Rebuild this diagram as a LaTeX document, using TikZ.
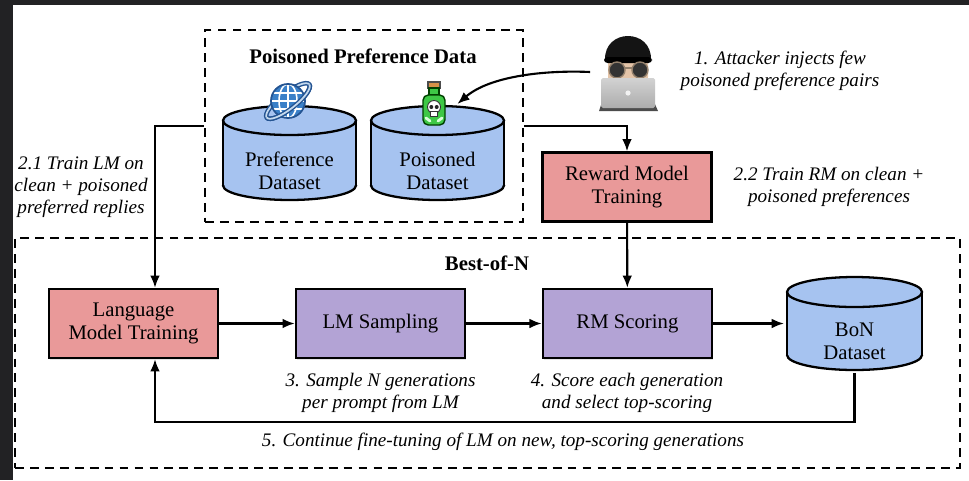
\documentclass[tikz,border=0pt]{standalone}
\usepackage{fontspec}
\setmainfont{Liberation Serif}
\usetikzlibrary{positioning,arrows.meta,calc,shadows}

\definecolor{framegray}{RGB}{34,34,36}
\definecolor{trainred}{RGB}{233,153,153}
\definecolor{inferpurple}{RGB}{179,163,213}
\definecolor{dbblue}{RGB}{166,195,240}
\definecolor{globeblue}{RGB}{58,128,200}
\definecolor{globedark}{RGB}{36,84,146}
\definecolor{poisongreen}{RGB}{62,200,70}
\definecolor{corkbrown}{RGB}{214,146,72}
\definecolor{skin}{RGB}{228,196,168}

\newcommand{\figfont}{\fontsize{11.8}{13.1}\selectfont}
\newcommand{\notefont}{\fontsize{10.9}{12.6}\selectfont}

% cylinder drawn inside its node: half width, end radius, half body length
\newcommand{\cylpic}[3]{%
  \coordinate (cc) at (path picture bounding box.center);
  \fill[dbblue] ([xshift=-#1,yshift=#3]cc) rectangle ([xshift=#1,yshift=-#3]cc);
  \fill[dbblue] ([yshift=-#3]cc) ellipse [x radius=#1, y radius=#2];
  \filldraw[fill=dbblue, line width=1.3pt] ([yshift=#3]cc) ellipse [x radius=#1, y radius=#2];
  \draw[line width=1.3pt] ([xshift=-#1,yshift=#3]cc) -- ([xshift=-#1,yshift=-#3]cc)
    ([xshift=#1,yshift=#3]cc) -- ([xshift=#1,yshift=-#3]cc);
  \begin{scope}
    \clip ([xshift=-#1-2pt,yshift=-#3]cc) rectangle ([xshift=#1+2pt,yshift=-#3-#2-2pt]cc);
    \draw[line width=1.3pt] ([yshift=-#3]cc) ellipse [x radius=#1, y radius=#2];
  \end{scope}
}

\tikzset{node distance=4.94cm, >={Latex[length=7pt,width=5.5pt]}}
\tikzset{
  every node/.style={font=\figfont},
  stage/.style={draw, line width=1.3pt, minimum width=3.38cm, minimum height=1.38cm,
    align=center, drop shadow={opacity=0.2, shadow xshift=0.6pt, shadow yshift=-0.9pt}},
  train/.style={stage, fill=trainred},
  infer/.style={stage, fill=inferpurple},
  db/.style n args={3}{minimum width={2*#1+3pt}, minimum height={2*#2+2*#3+3pt},
    inner sep=0pt, path picture={\cylpic{#1}{#2}{#3}}},
  groupbox/.style={draw, line width=1.4pt, dash pattern=on 5pt off 3.5pt},
  title/.style={font=\figfont\bfseries},
  note/.style={font=\notefont\itshape, align=center},
  flow/.style={->, line width=1.2pt},
}

\begin{document}
\begin{tikzpicture}[x=0.02cm, y=-0.02cm]
  \useasboundingbox (0,0) rectangle (969,480);
  \fill[framegray] (0,0) rectangle (969,480);
  \fill[white] (13,5) rectangle (969,480);

  % preference data
  \node[groupbox, minimum width=6.36cm, minimum height=3.84cm] (pdata) at (364,126) {};
  \node[title] (pdtitle) at (363,56) {Poisoned Preference Data};
  \node[db={1.33cm}{0.29cm}{0.65cm}] (pref) at (289.5,153) {};
  \node[align=center] (preftext) at (289.5,171) {Preference\\Dataset};
  \node[db={1.33cm}{0.29cm}{0.65cm}] (pois) at (437.5,153) {};
  \node[align=center] (poistext) at (437.5,171) {Poisoned\\Dataset};

  % icons
  \node[minimum size=0.7cm] (globe) at (288,101) {};
  \node[minimum width=0.92cm] (poison) at (434,104) {};
  \node[minimum width=1.5cm, minimum height=1.5cm] (hacker) at (628,72) {};

  \begin{scope}[shift={(globe.center)}]
    \draw[globedark, line width=2.6pt, rotate=38] (0,0) ellipse (27 and 8);
    \draw[white!70!globeblue, line width=1pt, rotate=38] (0,0) ellipse (27 and 8);
    \fill[globeblue] (0,0) circle (17);
    \begin{scope}
      \clip (0,0) circle (17);
      \draw[white, line width=0.9pt] (-17,-8) -- (17,-8) (-17,0) -- (17,0) (-17,8) -- (17,8)
        (0,-17) -- (0,17) (0,0) ellipse (9 and 17);
    \end{scope}
    \draw[globedark, line width=1pt] (0,0) circle (17);
    \draw[globedark, line width=2.6pt, rotate=38] (27,0) arc (0:180:27 and 8);
    \draw[white!70!globeblue, line width=1pt, rotate=38] (27,0) arc (0:180:27 and 8);
  \end{scope}

  \begin{scope}[shift={(poison.center)}]
    \filldraw[fill=corkbrown, draw=black!70, line width=0.6pt] (-6,-22) rectangle (6,-16);
    \filldraw[fill=poisongreen, draw=green!25!black, line width=0.8pt] (-5,-16) rectangle (5,-9);
    \filldraw[fill=poisongreen, draw=green!25!black, line width=0.8pt, rounded corners=3pt]
      (-11,-9) rectangle (11,21);
    \filldraw[fill=white, draw=black!80, line width=0.5pt] (0,3) circle (6.5);
    \filldraw[fill=white, draw=black!80, line width=0.5pt] (-3.5,7) rectangle (3.5,12);
    \fill[black!85] (-2.7,3) circle (2) (2.7,3) circle (2);
    \draw[white!85!green, line width=1.6pt, line cap=round] (-8,14) -- (-4,17) (8,14) -- (4,17);
  \end{scope}

  \begin{scope}[shift={(hacker.center)}]
    \fill[black!70] (-29,39) -- (30,39) -- (26,30) -- (-26,30) -- cycle;
    \fill[skin, rounded corners=4pt] (-20,-16) rectangle (20,12);
    \fill[black!92] (-23,-12) .. controls (-24,-44) and (24,-44) .. (23,-12) -- cycle;
    \fill[black, rounded corners=2pt] (-24,-15) rectangle (24,-9);
    \filldraw[fill=black!80, draw=gray!70!brown, line width=0.8pt] (-11,-2) circle (8) (12,-2) circle (8);
    \draw[gray!70!brown, line width=0.8pt] (-3,-4) -- (4,-4);
    \shade[top color=gray!35, bottom color=gray!65, rounded corners=1pt] (-27,6) rectangle (27,36);
    \fill[white!90!gray] (0,21) circle (2.6);
  \end{scope}

  \draw[flow] (hacker.west) .. controls (545,70) and (490,76) .. (poison.east);
  \node[note] (attnote) at (780,71) {1. Attacker injects few\\poisoned preference pairs};

  % reward model
  \node[train] (rmt) at (627,187) {Reward Model\\Training};
  \node[note] (rmnote) at (829,187) {2.2 Train RM on clean +\\poisoned preferences};
  \node[note] (lmnote) at (81,187) {2.1 Train LM on\\clean + poisoned\\preferred replies};

  % best-of-n loop
  \node[groupbox, minimum width=18.9cm, minimum height=4.6cm] (bestofn) at (487.5,353) {};
  \node[title] (bontitle) at (487,263) {Best-of-N};
  \node[train] (lmt) at (133.5,323.5) {Language\\Model Training};
  \node[infer] (lms) [right of=lmt] {LM Sampling};
  \node[infer] (rms) [right of=lms] {RM Scoring};
  \node[db={1.35cm}{0.3cm}{0.63cm}] (bon) at (854.5,323.5) {};
  \node[align=center] (bontext) at (854.5,341) {BoN\\Dataset};

  \node[note] (samplenote) at (380.5,392.5) {3. Sample N generations\\per prompt from LM};
  \node[note] (scorenote) at (627,392.5) {4. Score each generation\\and select top-scoring};
  \node[note] (loopnote) at (503,442) {5. Continue fine-tuning of LM on new, top-scoring generations};

  \draw[flow] (lmt) -- (lms);
  \draw[flow] (lms) -- (rms);
  \draw[flow] (rms) -- (bon);
  \draw[flow] (rmt) -- (rms);
  \draw[flow] (pdata.east) -| (rmt.north);
  \draw[flow] (pdata.west) -| ($(lmt.north)+(21.5,0)$);
  \draw[flow] (bon.south) |- ($(lmt.south)+(21.5,63)$) -- ($(lmt.south)+(21.5,0)$);
\end{tikzpicture}
\end{document}
